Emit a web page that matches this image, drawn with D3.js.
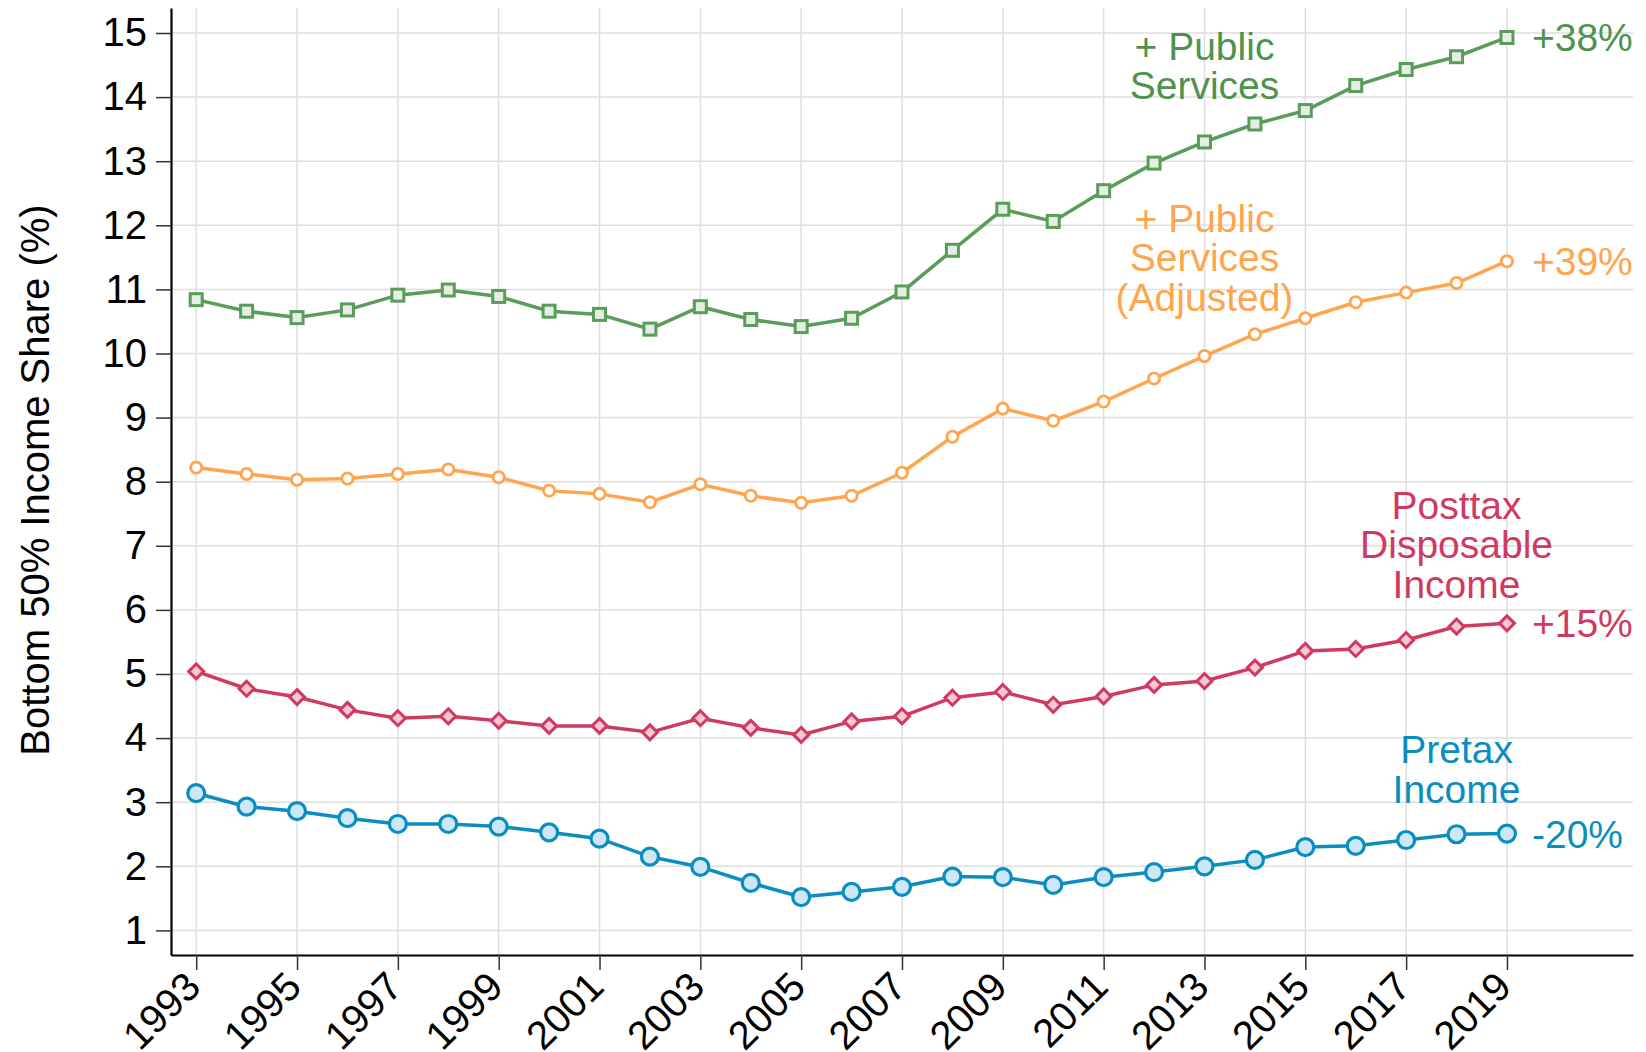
<!DOCTYPE html>
<html>
<head>
<meta charset="utf-8">
<script src="https://cdn.jsdelivr.net/npm/d3@7"></script>
<style>
  body { margin: 0; background: #fff; }
  text { font-family: Arial, "Liberation Sans", Helvetica, sans-serif; }
</style>
</head>
<body>
<div id="chart"></div>
<script>
var years = [1993,1994,1995,1996,1997,1998,1999,2000,2001,2002,2003,2004,2005,2006,2007,2008,2009,2010,2011,2012,2013,2014,2015,2016,2017,2018,2019];
var xTicks = [1993,1995,1997,1999,2001,2003,2005,2007,2009,2011,2013,2015,2017,2019];
var yTicks = [1,2,3,4,5,6,7,8,9,10,11,12,13,14,15];

var publicServices = [10.84,10.66,10.56,10.68,10.91,10.99,10.89,10.66,10.61,10.38,10.73,10.53,10.42,10.55,10.96,11.61,12.25,12.06,12.54,12.97,13.30,13.58,13.79,14.18,14.43,14.63,14.93];
var publicAdjusted = [8.22,8.12,8.03,8.05,8.12,8.19,8.07,7.86,7.81,7.68,7.96,7.78,7.67,7.78,8.14,8.70,9.14,8.95,9.25,9.61,9.96,10.30,10.55,10.80,10.95,11.10,11.44];
var posttax = [5.04,4.77,4.64,4.44,4.31,4.34,4.27,4.19,4.19,4.09,4.31,4.16,4.05,4.26,4.34,4.63,4.72,4.52,4.65,4.83,4.89,5.10,5.36,5.39,5.53,5.74,5.79];
var pretax = [3.14,2.93,2.86,2.75,2.66,2.66,2.62,2.53,2.43,2.15,1.99,1.74,1.52,1.60,1.68,1.84,1.83,1.71,1.83,1.91,2.00,2.10,2.30,2.32,2.41,2.50,2.51];

var seriesNames = [["+ Public","Services"], ["+ Public","Services","(Adjusted)"], ["Posttax","Disposable","Income"], ["Pretax","Income"]];
var changeLabels = ["+38%","+39%","+15%","-20%"];
// year the name label is centred over, and its first baseline (in data units)
var nameYears = [2013, 2013, 2018, 2018];
var nameTops = [14.58, 11.9, 7.42, 3.61];

var svgWidth = 1646;
var svgHeight = 1052;
var margin = ({top: 8, right: 13, bottom: 97, left: 171});
var w = svgWidth - margin.left - margin.right;
var h = svgHeight - margin.top - margin.bottom;

var svg = d3.select("#chart")
    .append("svg")
    .attr("width", svgWidth)
    .attr("height", svgHeight);

var g = svg.append("g")
    .attr("transform", "translate(" + margin.left + "," + margin.top + ")");

var xScale = d3.scaleLinear().domain([1992.5, 2021.5]).range([0, w]);
var yScale = d3.scaleLinear().domain([0.616, 15.39]).range([h, 0]);

// grid
g.selectAll(".hgrid").data(yTicks).enter()
    .append("line")
    .attr("x1", 0).attr("x2", w)
    .attr("y1", d => yScale(d)).attr("y2", d => yScale(d))
    .attr("stroke", "#dedede").attr("stroke-width", 1.5);

g.selectAll(".vgrid").data(xTicks).enter()
    .append("line")
    .attr("y1", 0).attr("y2", h)
    .attr("x1", d => xScale(d)).attr("x2", d => xScale(d))
    .attr("stroke", "#dedede").attr("stroke-width", 1.5);

// axes
var yAxis = g.append("g")
    .call(d3.axisLeft(yScale).tickValues(yTicks).tickSize(15).tickPadding(9).tickSizeOuter(0));
var xAxis = g.append("g")
    .attr("transform", "translate(0," + h + ")")
    .call(d3.axisBottom(xScale).tickValues(xTicks).tickSize(15).tickFormat(d3.format("d")).tickSizeOuter(0));

[yAxis, xAxis].forEach(function(a) {
    a.select(".domain").attr("stroke", "#000").attr("stroke-width", 2.2);
    a.selectAll(".tick line").attr("stroke", "#333").attr("stroke-width", 1.5);
    a.selectAll("text").attr("font-size", 40).attr("fill", "#000")
        .attr("font-family", "Arial, 'Liberation Sans', sans-serif");
});

xAxis.selectAll("text")
    .attr("text-anchor", "end")
    .attr("y", 0).attr("dy", 0)
    .attr("transform", "translate(6,34) rotate(-45)");

svg.append("text")
    .attr("transform", "translate(49," + (margin.top + 472) + ") rotate(-90)")
    .attr("text-anchor", "middle")
    .attr("font-size", 40)
    .text("Bottom 50% Income Share (%)");

var line = d3.line().x((d, i) => xScale(years[i])).y(d => yScale(d));

var styles = [
    {values: publicServices, color: "#5a9d5a", text: "#4d934d", fill: "#e4eee3", shape: "square"},
    {values: publicAdjusted, color: "#ffa54f", text: "#ffa54f", fill: "#ffffff", shape: "circleSmall"},
    {values: posttax, color: "#d03a61", text: "#d03a61", fill: "#f4c9d3", shape: "diamond"},
    {values: pretax, color: "#0a8ec0", text: "#0a8ec0", fill: "#cde8f4", shape: "circle"}
];

styles.forEach(function(s, k) {
    var grp = g.append("g");
    grp.append("path")
        .datum(s.values)
        .attr("d", line)
        .attr("fill", "none")
        .attr("stroke", s.color)
        .attr("stroke-width", 3.5);

    var pts = grp.selectAll(".pt").data(s.values).enter();
    if (s.shape == "circle") {
        pts.append("circle")
            .attr("cx", (d, i) => xScale(years[i])).attr("cy", d => yScale(d))
            .attr("r", 8.5)
            .attr("fill", s.fill).attr("stroke", s.color).attr("stroke-width", 3.2);
    } else if (s.shape == "circleSmall") {
        pts.append("circle")
            .attr("cx", (d, i) => xScale(years[i])).attr("cy", d => yScale(d))
            .attr("r", 5.6)
            .attr("fill", s.fill).attr("stroke", s.color).attr("stroke-width", 2.8);
    } else if (s.shape == "square") {
        pts.append("rect")
            .attr("x", (d, i) => xScale(years[i]) - 6).attr("y", d => yScale(d) - 6)
            .attr("width", 12).attr("height", 12)
            .attr("fill", s.fill).attr("stroke", s.color).attr("stroke-width", 3);
    } else {
        pts.append("path")
            .attr("d", "M0,-7.5L7.5,0L0,7.5L-7.5,0Z")
            .attr("transform", (d, i) => "translate(" + xScale(years[i]) + "," + yScale(d) + ")")
            .attr("fill", s.fill).attr("stroke", s.color).attr("stroke-width", 3);
    }

    // end-of-line change label
    g.append("text")
        .attr("x", xScale(2019) + 25)
        .attr("y", yScale(s.values[s.values.length - 1]) + 14)
        .attr("font-size", 39)
        .attr("fill", s.text)
        .text(changeLabels[k]);

    // series name
    var nm = g.append("text")
        .attr("text-anchor", "middle")
        .attr("font-size", 39)
        .attr("fill", s.text);
    seriesNames[k].forEach(function(t, j) {
        nm.append("tspan")
            .attr("x", xScale(nameYears[k]))
            .attr("y", yScale(nameTops[k]) + j * 39.5)
            .text(t);
    });
});
</script>
</body>
</html>
